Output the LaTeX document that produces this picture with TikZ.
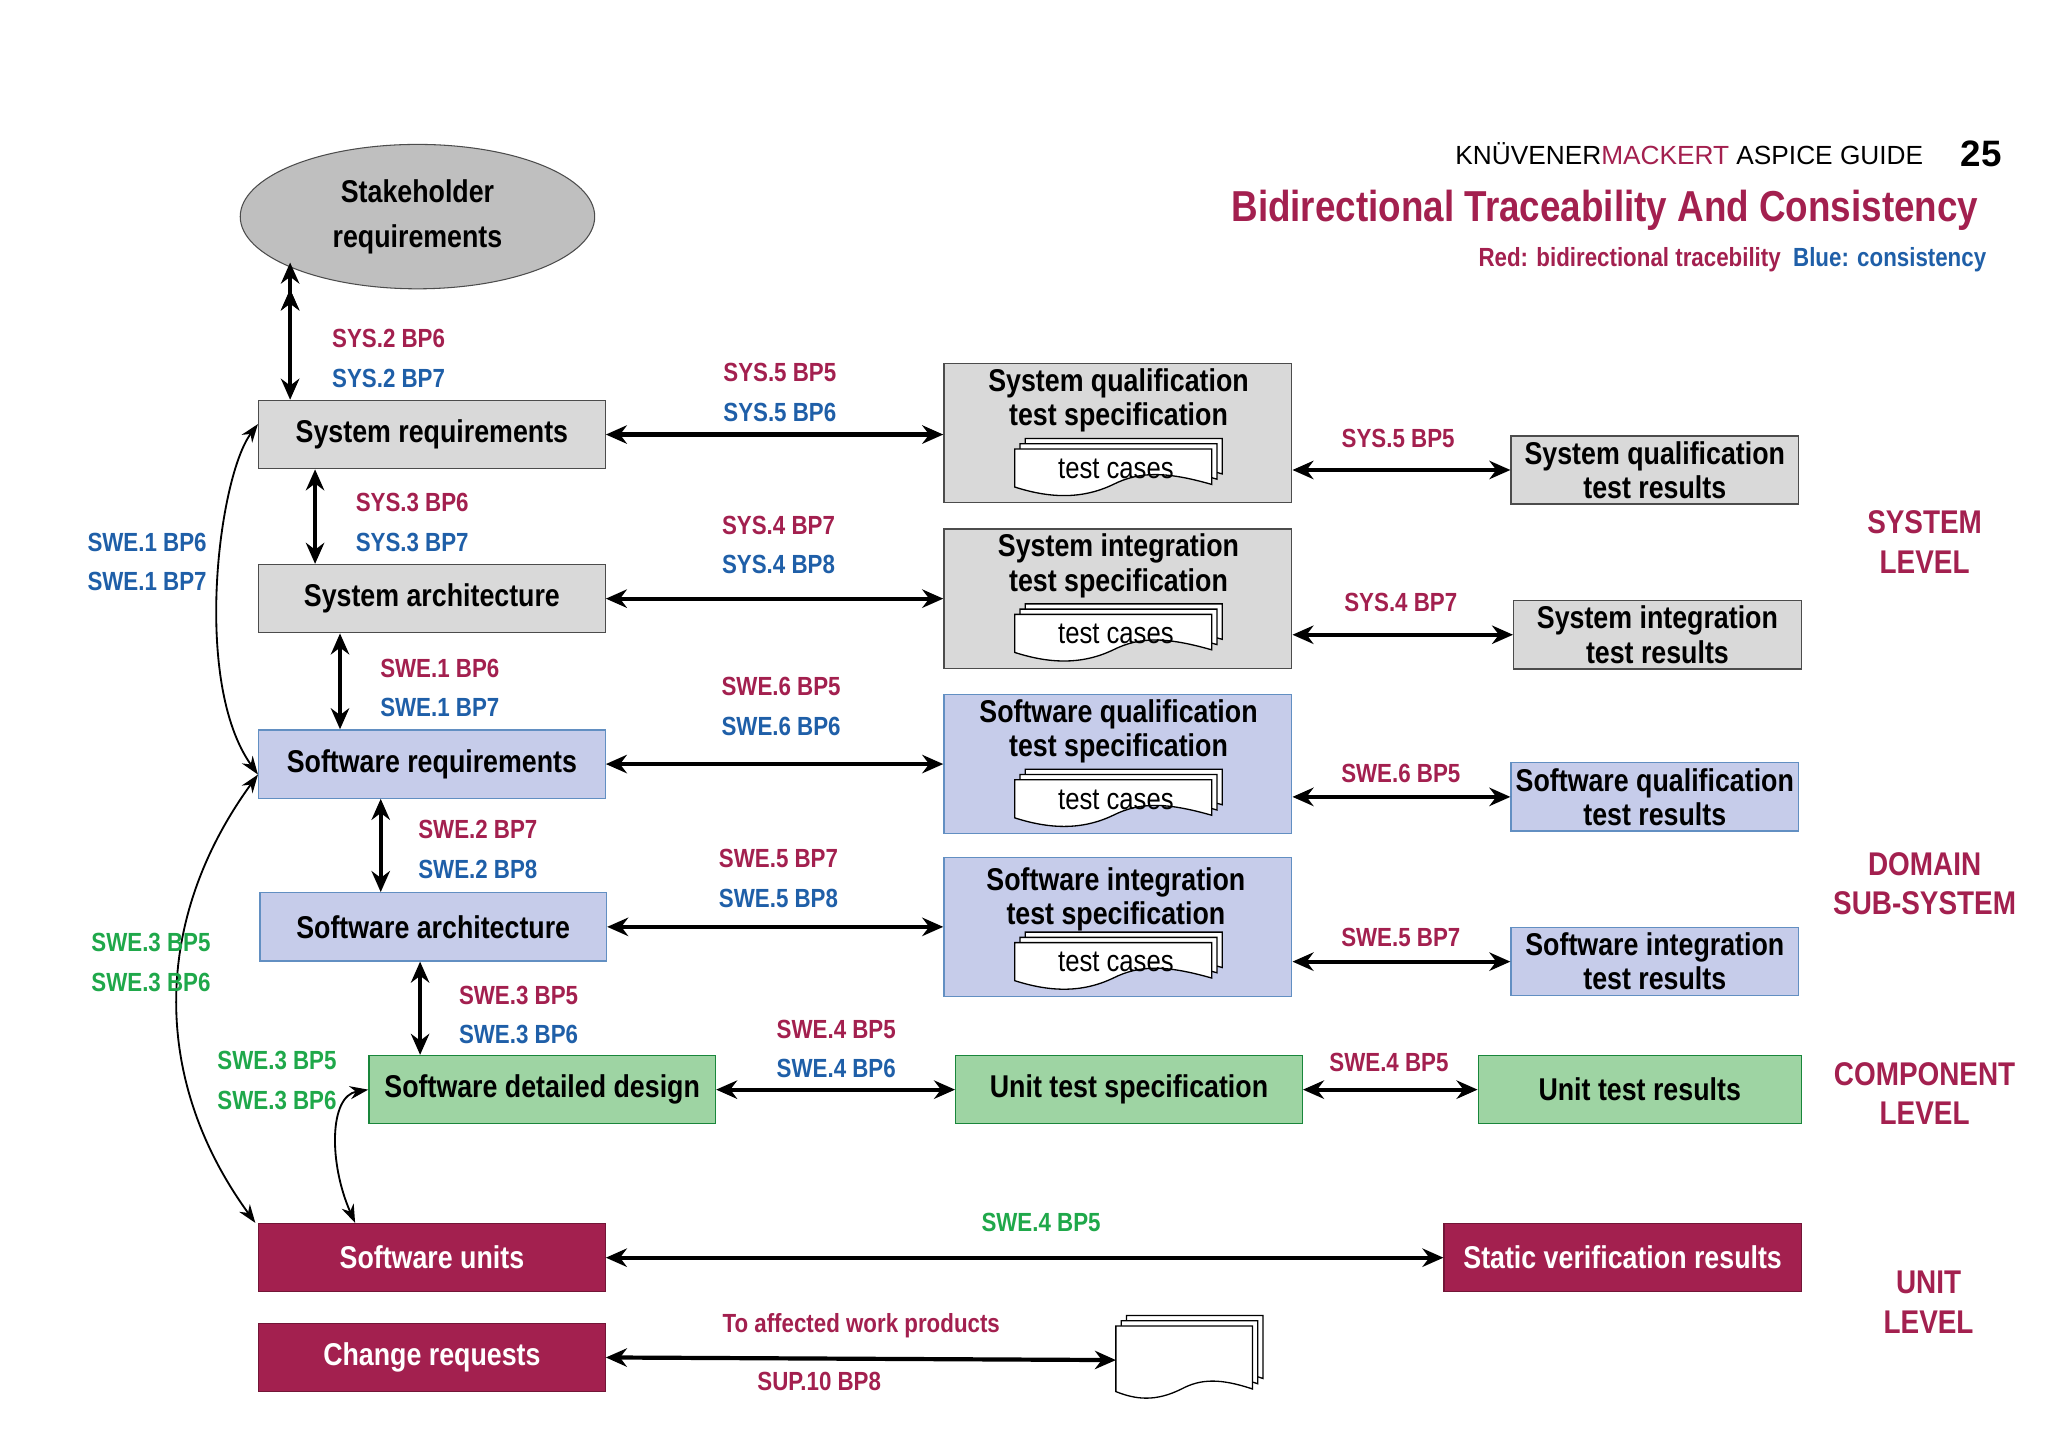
\documentclass[tikz,border=0pt]{standalone}
\usepackage{fontspec}
\setmainfont{Liberation Sans}[FakeStretch=0.85]
\newfontfamily\plainsans{Liberation Sans}
\usetikzlibrary{shapes.geometric,arrows.meta}
\definecolor{crim}{HTML}{A3204F}
\definecolor{tblue}{HTML}{1F5FA8}
\definecolor{tgreen}{HTML}{1FA84A}
\definecolor{gfill}{HTML}{D9D9D9}
\definecolor{bfill}{HTML}{C6CCEA}
\definecolor{grfill}{HTML}{9ED4A3}
\begin{document}
\begin{tikzpicture}[x=0.5pt,y=-0.5pt,
  box/.style={draw=black!70,line width=0.5pt,inner sep=0pt,align=center,font=\bfseries\fontsize{12}{13}\selectfont},
  g/.style={box,fill=gfill}, b/.style={box,fill=bfill,draw=tblue!70}, gr/.style={box,fill=grfill,draw=tgreen!80!black},
  c/.style={box,fill=crim,text=white,draw=crim!70!black},
  lab/.style={font=\bfseries\fontsize{10}{11}\selectfont},
  rd/.style={lab,text=crim}, bl/.style={lab,text=tblue}, gn/.style={lab,text=tgreen},
  lvl/.style={font=\bfseries\fontsize{12.5}{15}\selectfont,text=crim,align=center},
  arr/.style={line width=1.6pt,{Stealth[length=8pt,width=7pt]}-{Stealth[length=8pt,width=7pt]}},
  carr/.style={line width=0.7pt,{Stealth[length=7pt,width=5pt]}-{Stealth[length=7pt,width=5pt]}},
  sw/.style={box,draw=none,fill=none},
  doc/.pic={
    \foreach \d in {8,4,0}{
      \draw[fill=white,line width=0.5pt] (-75+\d,-15-\d) -- (75+\d,-15-\d) -- (75+\d,12-\d) .. controls (40+\d,2-\d) and (20+\d,2-\d) .. (0+\d,12-\d) .. controls (-25+\d,24-\d) and (-50+\d,22-\d) .. (-75+\d,14-\d) -- cycle;}
  }]
\useasboundingbox (0,0) rectangle (1560,1107);
\fill[white] (0,0) rectangle (1560,1107);
% header
\node[anchor=east,font=\plainsans\fontsize{10}{12}\selectfont] at (1472,117) {KNÜVENER\textcolor{crim}{MACKERT} ASPICE GUIDE};
\node[font=\plainsans\bfseries\fontsize{14}{16}\selectfont] at (1509,117) {25};
\node[anchor=east,font=\bfseries\fontsize{16.5}{18}\selectfont,text=crim] at (1514,160) {Bidirectional Traceability And Consistency};
\node[anchor=east,lab] at (1520,198) {\textcolor{crim}{Red: bidirectional tracebility}\ \ \textcolor{tblue}{Blue: consistency}};
% left column
\node[ellipse,draw=black!70,fill=black!25,minimum width=135pt,minimum height=55pt,align=center,font=\bfseries\fontsize{12}{17}\selectfont] (stake) at (318,165) {Stakeholder\\requirements};
\node[g,minimum width=132pt,minimum height=26pt] (sysreq) at (329,331) {System requirements};
\node[g,minimum width=132pt,minimum height=26pt] (sysarch) at (329,456) {System architecture};
\node[b,minimum width=132pt,minimum height=26pt] (swreq) at (329,582) {Software requirements};
\node[b,minimum width=132pt,minimum height=26pt] (swarch) at (330,706) {Software architecture};
\node[gr,minimum width=132pt,minimum height=26pt] (detail) at (413,830) {Software detailed design};
\node[c,minimum width=132pt,minimum height=26pt] (units) at (329,958) {Software units};
\node[c,minimum width=132pt,minimum height=26pt] (change) at (329,1034) {Change requests};
% middle column
\node[g,minimum width=132.5pt,minimum height=53pt] (sqts) at (851.5,330) {};
\node[g,minimum width=132.5pt,minimum height=53pt] (sits) at (851.5,456) {};
\node[b,minimum width=132.5pt,minimum height=53pt] (swqts) at (851.5,582) {};
\node[b,minimum width=132.5pt,minimum height=53pt] (swits) at (851.5,706) {};
\node[sw,font=\bfseries\fontsize{12}{13}\selectfont] (t1) at (852,305) {System qualification\\test specification};
\node[sw,font=\bfseries\fontsize{12}{13}\selectfont] (t2) at (852,431) {System integration\\test specification};
\node[sw,font=\bfseries\fontsize{12}{13}\selectfont] (t3) at (852,557) {Software qualification\\test specification};
\node[sw,font=\bfseries\fontsize{12}{13}\selectfont] (t4) at (850,685) {Software integration\\test specification};
\foreach \y/\n in {357/a,483/b,609/c,733/d}{
  \pic at (848,\y) {doc};
  \node[font=\fontsize{11.5}{12}\selectfont] (tc\n) at (850,\y) {test cases};
}
\node[gr,minimum width=132pt,minimum height=26pt] (uts) at (860,830) {Unit test specification};
% right column
\node[g,minimum width=109.5pt,minimum height=26pt,font=\bfseries\fontsize{12}{13}\selectfont] (sqr) at (1260.5,358) {System qualification\\test results};
\node[g,minimum width=109.5pt,minimum height=26pt,font=\bfseries\fontsize{12}{13}\selectfont] (sir) at (1262.5,483.5) {System integration\\test results};
\node[b,minimum width=109.5pt,minimum height=26pt,font=\bfseries\fontsize{12}{13}\selectfont] (swqr) at (1260.5,607) {Software qualification\\test results};
\node[b,minimum width=109.5pt,minimum height=26pt,font=\bfseries\fontsize{12}{13}\selectfont] (swir) at (1260.5,732.5) {Software integration\\test results};
\node[gr,minimum width=123pt,minimum height=26pt] (utr) at (1249,830) {Unit test results};
\node[c,minimum width=136pt,minimum height=26pt] (svr) at (1236,958) {Static verification results};
% document stack
\coordinate (dstk) at (900,1036);
\foreach \d in {8,4,0}{
  \draw[fill=white,line width=0.5pt] (850+\d,1010-\d) -- (954+\d,1010-\d) -- (954+\d,1058-\d) .. controls (930+\d,1050-\d) and (915+\d,1050-\d) .. (900+\d,1058-\d) .. controls (880+\d,1068-\d) and (865+\d,1066-\d) .. (850+\d,1060-\d) -- cycle;}
% vertical arrows
\draw[arr] (stake.south -| 221,0) ++(0,0) coordinate (s1);
\draw[arr] (221,200) -- (sysreq.north -| 221,0);
\draw[arr] (sysreq.south -| 240,0) -- (sysarch.north -| 240,0);
\draw[arr] (sysarch.south -| 259,0) -- (swreq.north -| 259,0);
\draw[arr] (swreq.south -| 290,0) -- (swarch.north -| 290,0);
\draw[arr] (swarch.south -| 320,0) -- (detail.north -| 320,0);
% horizontal arrows
\draw[arr] (sysreq.east) -- (sqts.west |- sysreq.east);
\draw[arr] (sysarch.east) -- (sits.west |- sysarch.east);
\draw[arr] (swreq.east) -- (swqts.west |- swreq.east);
\draw[arr] (swarch.east) -- (swits.west |- swarch.east);
\draw[arr] (detail.east) -- (uts.west);
\draw[arr] (uts.east) -- (utr.west);
\draw[arr] (units.east) -- (svr.west);
\draw[arr] (change.east) -- (dstk -| 850,0);
\draw[arr] (sqts.east |- sqr) -- (sqr.west);
\draw[arr] (sits.east |- sir) -- (sir.west);
\draw[arr] (swqts.east |- swqr) -- (swqr.west);
\draw[arr] (swits.east |- swir) -- (swir.west);
% curved arrows
\draw[carr] ([yshift=4pt]sysreq.west) .. controls +(-30,40) and +(-50,-70) .. ([yshift=-4pt]swreq.west);
\draw[carr] ([yshift=-4pt]swreq.west) .. controls +(-80,110) and +(-80,-110) .. ([xshift=-1pt]units.north west);
\draw[carr] (detail.west) .. controls +(-30,5) and +(-20,-45) .. ([xshift=37pt]units.north west);
% labels
\node[rd] at (296,258) {SYS.2 BP6}; \node[bl] at (296,288) {SYS.2 BP7};
\node[rd] at (314,383) {SYS.3 BP6}; \node[bl] at (314,413) {SYS.3 BP7};
\node[rd] at (335,509) {SWE.1 BP6}; \node[bl] at (335,539) {SWE.1 BP7};
\node[rd] at (364,632) {SWE.2 BP7}; \node[bl] at (364,662) {SWE.2 BP8};
\node[rd] at (395,758) {SWE.3 BP5}; \node[bl] at (395,788) {SWE.3 BP6};
\node[bl] at (112,413) {SWE.1 BP6}; \node[bl] at (112,443) {SWE.1 BP7};
\node[gn] at (115,718) {SWE.3 BP5}; \node[gn] at (115,748) {SWE.3 BP6};
\node[gn] at (211,808) {SWE.3 BP5}; \node[gn] at (211,838) {SWE.3 BP6};
\node[rd] at (594,284) {SYS.5 BP5}; \node[bl] at (594,314) {SYS.5 BP6};
\node[rd] at (593,400) {SYS.4 BP7}; \node[bl] at (593,430) {SYS.4 BP8};
\node[rd] at (595,523) {SWE.6 BP5}; \node[bl] at (595,553) {SWE.6 BP6};
\node[rd] at (593,654) {SWE.5 BP7}; \node[bl] at (593,684) {SWE.5 BP8};
\node[rd] at (637,784) {SWE.4 BP5}; \node[bl] at (637,814) {SWE.4 BP6};
\node[rd] at (1065,334) {SYS.5 BP5};
\node[rd] at (1067,459) {SYS.4 BP7};
\node[rd] at (1067,589) {SWE.6 BP5};
\node[rd] at (1067,714) {SWE.5 BP7};
\node[rd] at (1058,809) {SWE.4 BP5};
\node[gn] at (793,931) {SWE.4 BP5};
\node[rd] at (656,1010) {To affected work products};
\node[rd] at (624,1052) {SUP.10 BP8};
% levels
\node[lvl] at (1466,413) {SYSTEM\\LEVEL};
\node[lvl] at (1466,673) {DOMAIN\\SUB-SYSTEM};
\node[lvl] at (1466,833) {COMPONENT\\LEVEL};
\node[lvl] at (1469,992) {UNIT\\LEVEL};
\end{tikzpicture}
\end{document}
